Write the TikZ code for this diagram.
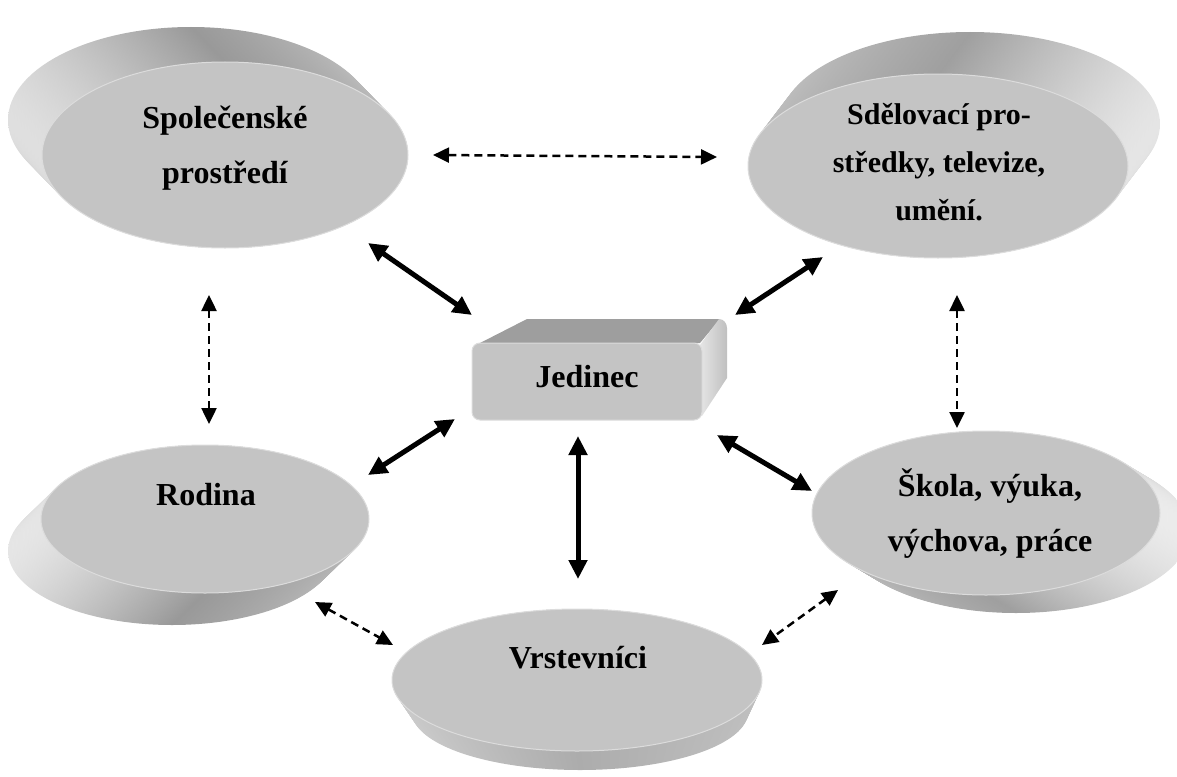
\documentclass[tikz,border=0pt]{standalone}
\usepackage{fontspec}
\setmainfont{Liberation Serif}
\usepackage{xcolor}
\usetikzlibrary{arrows.meta,positioning}

\definecolor{facegray}{HTML}{C4C4C4}
\definecolor{rimgray}{HTML}{DCDCDC}
\definecolor{topgray}{HTML}{9E9E9E}

\begin{document}
\begin{tikzpicture}[x=1pt,y=-1pt,
  txt/.style={font=\bfseries\fontsize{32}{55}\selectfont, align=center},
  face/.style={fill=facegray, draw=rimgray, line width=1pt},
  link/.style={{Triangle[length=19pt,width=18pt]}-{Triangle[length=19pt,width=18pt]}, line width=5pt},
  dlink/.style={{Triangle[length=16pt,width=15pt]}-{Triangle[length=16pt,width=15pt]}, line width=2.5pt, dash pattern=on 8pt off 5pt}]

  \useasboundingbox (0,0) rectangle (1177,776);

  % discs: back centre/radii, front centre/radii, side shading
  \foreach \bx/\by/\brx/\bry/\fx/\fy/\frx/\fry/\cl/\cm/\cr in
    {191/120/183/93/225/155/183/93/25/80/50,
     970/124/190/92/938/166/190/92/50/75/20,
     172/551/164/74/205/519/164/74/20/80/55,
     580/712/168/58/577/680/185/71/40/65/50,
     1016/531/174/82/986/513/174/82/50/75/15}
  {
    \foreach \i in {0,...,24}
      \shade[left color=gray!\cl, right color=gray!\cr, middle color=gray!\cm]
        ({\bx+(\fx-\bx)*\i/24},{\by+(\fy-\by)*\i/24})
        ellipse [x radius={\brx+(\frx-\brx)*\i/24}, y radius={\bry+(\fry-\bry)*\i/24}];
    \draw[face] (\fx,\fy) ellipse [x radius=\frx, y radius=\fry];
  }

  % box
  \fill[topgray] (480,343) -- (527,319) -- (720,319) -- (700,343) -- cycle;
  \shade[left color=gray!20, right color=gray!50]
    (700,345) -- (719,319) to[out=0,in=90] (727,328) -- (727,378) -- (702,416) -- cycle;
  \draw[face, rounded corners=8pt] (472,343) rectangle (702,420);

  % texts
  \node[txt] (social) at (225,148) {Společenské\\prostředí};
  \node[txt, font=\bfseries\fontsize{30}{48}\selectfont] (media) at (939,162)
    {Sdělovací pro-\\středky, televize,\\umění.};
  \node[txt] (self) at (587,377) {Jedinec};
  \node[txt] (family) at (206,495) {Rodina};
  \node[txt] (peers) at (578,658) {Vrstevníci};
  \node[txt] (school) at (990,514) {Škola, výuka,\\výchova, práce};

  % arrow ends
  \coordinate (social-self) at (368,243);
  \coordinate (self-social) at (472,315);
  \coordinate (media-self) at (823,257);
  \coordinate (self-media) at (735,315);
  \coordinate (self-family) at (455,419);
  \coordinate (family-self) at (368,475);
  \coordinate (self-peers) at (578,436);
  \coordinate (peers-self) at (578,579);
  \coordinate (self-school) at (717,435);
  \coordinate (school-self) at (812,491);
  \coordinate (social-media) at (433,155);
  \coordinate (media-social) at (717,157);
  \coordinate (social-family) at (209,295);
  \coordinate (family-social) at (209,424);
  \coordinate (media-school) at (957,295);
  \coordinate (school-media) at (957,428);
  \coordinate (family-peers) at (315,602);
  \coordinate (peers-family) at (393,645);
  \coordinate (school-peers) at (838,590);
  \coordinate (peers-school) at (762,645);

  \draw[link] (social-self) -- (self-social);
  \draw[link] (media-self) -- (self-media);
  \draw[link] (self-family) -- (family-self);
  \draw[link] (self-peers) -- (peers-self);
  \draw[link] (self-school) -- (school-self);

  \draw[dlink] (social-media) -- (media-social);
  \draw[dlink] (social-family) -- (family-social);
  \draw[dlink] (media-school) -- (school-media);
  \draw[dlink] (family-peers) -- (peers-family);
  \draw[dlink] (school-peers) -- (peers-school);

\end{tikzpicture}
\end{document}
